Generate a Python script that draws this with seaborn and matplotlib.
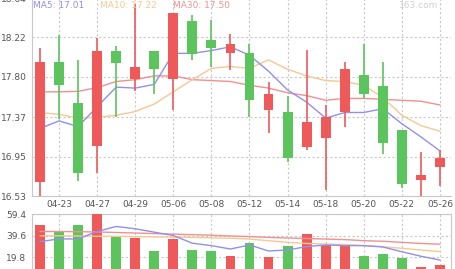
import numpy as np
import pandas as pd
import matplotlib
matplotlib.use("Agg")
import matplotlib.pyplot as plt
import seaborn as sns

dates = ["04-22", "04-23", "04-24", "04-27", "04-28", "04-29", "04-30", "05-06", "05-07", "05-08", "05-11",
         "05-12", "05-13", "05-14", "05-15", "05-18", "05-19", "05-20", "05-21", "05-22", "05-25", "05-26"]
open_ = [16.68, 17.96, 17.52, 17.06, 18.07, 17.78, 18.07, 17.78, 18.40, 18.19, 18.05,
         18.05, 17.45, 17.43, 17.05, 17.15, 17.43, 17.82, 17.70, 17.23, 16.70, 16.84]
close = [17.96, 17.71, 16.77, 18.07, 17.95, 17.90, 17.88, 18.48, 18.04, 18.11, 18.15,
         17.55, 17.62, 16.93, 17.32, 17.37, 17.88, 17.62, 17.10, 16.66, 16.75, 16.94]
high = [18.11, 18.25, 17.98, 18.21, 18.13, 18.58, 18.08, 18.48, 18.46, 18.41, 18.26,
        18.15, 17.74, 17.60, 18.09, 17.50, 17.96, 18.15, 17.96, 17.23, 17.00, 17.02]
low = [16.50, 17.35, 16.69, 16.77, 17.37, 17.65, 17.62, 17.45, 17.98, 17.91, 17.87,
       17.37, 17.20, 16.89, 17.02, 16.59, 17.26, 17.57, 16.98, 16.61, 16.51, 16.64]
ma5 = [17.25, 17.33, 17.27, 17.48, 17.69, 17.68, 17.72, 18.05, 18.05, 18.08, 18.12,
       18.03, 17.86, 17.66, 17.53, 17.36, 17.42, 17.42, 17.46, 17.30, 17.16, 17.01]
ma10 = [17.42, 17.40, 17.36, 17.37, 17.39, 17.43, 17.51, 17.64, 17.77, 17.89, 17.91,
        17.89, 17.98, 17.88, 17.81, 17.76, 17.75, 17.71, 17.58, 17.39, 17.28, 17.22]
ma30 = [17.64, 17.64, 17.645, 17.685, 17.75, 17.77, 17.81, 17.81, 17.77, 17.76, 17.75,
        17.71, 17.68, 17.63, 17.60, 17.55, 17.57, 17.57, 17.56, 17.55, 17.54, 17.50]
volume = [48.9, 43.4, 49.5, 59.4, 39.7, 37.3, 25.9, 36.6, 26.5, 25.9, 21.0,
          33.3, 20.4, 30.5, 41.0, 31.1, 30.5, 21.0, 23.1, 18.9, 10.6, 12.7]
vma5 = [34.2, 36.6, 36.6, 43.4, 48.0, 45.9, 42.8, 39.7, 32.7, 30.5, 27.4,
        31.1, 25.6, 26.5, 29.6, 31.1, 30.5, 30.5, 29.3, 24.9, 20.8, 17.3]
vma10 = [39.5, 39.5, 39.3, 39.0, 39.0, 38.8, 38.5, 38.3, 38.0, 37.6, 37.3,
         36.5, 35.0, 33.5, 32.5, 32.0, 31.5, 30.5, 29.5, 28.0, 26.5, 25.0]
vma30 = [43.4, 43.4, 43.2, 43.0, 42.5, 42.0, 41.5, 41.0, 40.5, 40.0, 39.3,
         38.8, 38.0, 37.5, 37.0, 36.5, 36.0, 35.0, 34.5, 33.5, 32.5, 31.8]
price_ticks = [16.53, 16.95, 17.37, 17.80, 18.22, 18.64]
vol_ticks = [19.8, 39.6, 59.4]
tick_dates = ["04-23", "04-27", "04-29", "05-06", "05-08", "05-12", "05-14", "05-18", "05-20", "05-22", "05-26"]

RED = "#ee5a5a"
GREEN = "#5cc45c"
C5 = "#9090ee"
C10 = "#f6c892"
C30 = "#f19090"
GRID = "#c8c8c8"
TXT = "#555555"

sns.set_theme(style="white")
plt.rcParams["font.family"] = ["DejaVu Sans"]

W, H = 455, 269
fig = plt.figure(figsize=(W / 100, H / 100), dpi=100)
ax = fig.add_axes([32 / W, (H - 196) / H, (451 - 32) / W, (196 + 2) / H])
vax = fig.add_axes([32 / W, (H - 279) / H, (451 - 32) / W, (279 - 214) / H])

n = len(dates)
x = np.arange(n)
df = pd.DataFrame({"x": x, "date": dates, "open": open_, "close": close, "high": high, "low": low,
                   "ma5": ma5, "ma10": ma10, "ma30": ma30, "volume": volume,
                   "vma5": vma5, "vma10": vma10, "vma30": vma30})
df["up"] = df["close"] >= df["open"]
colors = [RED if u else GREEN for u in df["up"]]

# text behind candles (figure coords, 1 px below the top edge)
ty = 1 - 1.0 / H
fig.text(33 / W, ty, "MA5: 17.01", color=C5, fontsize=6.5, va="top", ha="left", zorder=0)
fig.text(100 / W, ty, "MA10: 17.22", color=C10, fontsize=6.5, va="top", ha="left", zorder=0)
fig.text(173 / W, ty, "MA30: 17.50", color=C30, fontsize=6.5, va="top", ha="left", zorder=0)
fig.text(438 / W, ty, "163.com", color="#d0d0d0", fontsize=6.5, va="top", ha="right", zorder=0)

# MA lines
for col, c in [("ma30", C30), ("ma10", C10), ("ma5", C5)]:
    sns.lineplot(data=df, x="x", y=col, ax=ax, color=c, lw=1.0, zorder=2)

# candles
ax.vlines(df["x"], df["low"], df["high"], colors=colors, lw=1.2, zorder=3)
body_bottom = np.minimum(df["open"], df["close"])
body_h = np.maximum(np.abs(df["close"] - df["open"]), 0.01)
ax.bar(df["x"], body_h, bottom=body_bottom, width=0.52, color=colors, zorder=4, linewidth=0)

ax.set_xlim(-0.42, n - 0.42)
ax.set_ylim(16.53, 18.64)
ax.set_yticks(price_ticks)
ax.set_yticklabels([f"{t:.2f}" for t in price_ticks])
tick_pos = [dates.index(d) for d in tick_dates]
ax.set_xticks(tick_pos)
ax.set_xticklabels(tick_dates)
ax.set_xlabel("")
ax.set_ylabel("")
ax.grid(True, color=GRID, ls=(0, (2, 2)), lw=0.8)
ax.set_axisbelow(True)
for s in ["top", "right"]:
    ax.spines[s].set_visible(False)
for s in ["left", "bottom"]:
    ax.spines[s].set_color(GRID)
    ax.spines[s].set_linewidth(0.8)
ax.tick_params(axis="both", labelsize=6.5, colors=TXT, length=2, width=0.6, pad=2)
ax.tick_params(axis="x", length=0, pad=3)
ax.patch.set_alpha(0)

# volume
sns.barplot(data=df, x="x", y="volume", hue="x", palette=colors, ax=vax, width=0.52,
            legend=False, saturation=1, native_scale=True, zorder=3, linewidth=0)
for col, c in [("vma30", C30), ("vma10", C10), ("vma5", C5)]:
    sns.lineplot(data=df, x="x", y=col, ax=vax, color=c, lw=1.0, zorder=4)
vax.set_xlim(-0.42, n - 0.42)
vax.set_ylim(0, 59.4)
vax.set_yticks(vol_ticks)
vax.set_yticklabels([f"{t:.1f}" for t in vol_ticks])
vax.set_xticks(tick_pos)
vax.set_xticklabels([])
vax.set_xlabel("")
vax.set_ylabel("")
vax.grid(True, color=GRID, ls=(0, (2, 2)), lw=0.8)
vax.set_axisbelow(True)
for s in vax.spines.values():
    s.set_color(GRID)
    s.set_linewidth(0.8)
    s.set_visible(True)
vax.tick_params(axis="both", labelsize=6.5, colors=TXT, length=2, width=0.6, pad=2)
vax.tick_params(axis="x", length=0)

fig.savefig("out.png", dpi=100)
